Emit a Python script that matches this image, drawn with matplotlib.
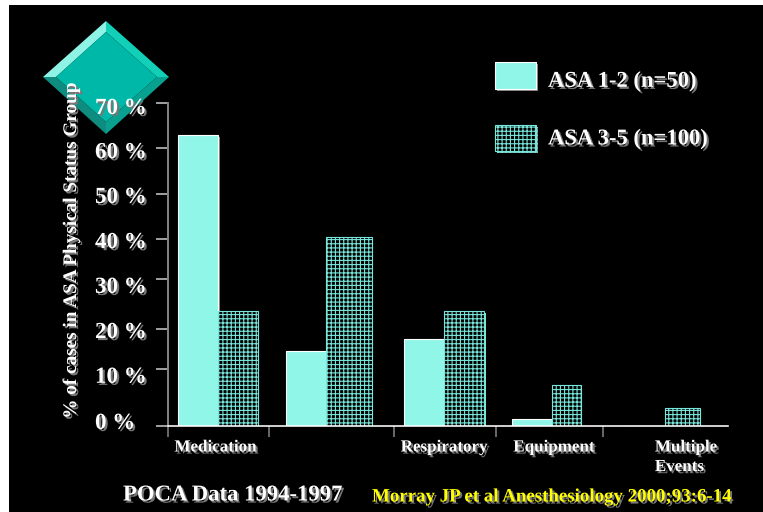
##############################################################################
#              POCA data slide: case types by ASA status group               #
##############################################################################

import matplotlib
matplotlib.use('Agg')
import matplotlib.pyplot as plt
import matplotlib.patheffects as pe
from matplotlib.patches import Polygon, Rectangle, Patch

# Data
categories = ['Medication', '', 'Respiratory', 'Equipment', 'Multiple\nEvents']
asa_1_2 = [63.0, 16.2, 18.7, 1.4, 0.0]
asa_3_5 = [24.9, 40.9, 24.9, 8.8, 3.8]
series_names = ['ASA 1-2 (n=50)', 'ASA 3-5 (n=100)']
ytick_labels = ['0 %', '10 %', '20 %', '30 %', '40 %', '50 %', '60 %', '70 %']

# Layout of the slide (pixels of the 763x512 picture)
W, H = 763, 512
ax_left, ax_right, ax_top, ax_bottom = 168, 728, 102.7, 425.5
group_edges = [168, 269, 394, 496, 603]
bar_a_left = [178, 285.5, 404.2, 512, 625]
bar_mid = [217.8, 325.5, 443.5, 551.5, 664.5]
bar_b_right = [257.5, 371.5, 484, 580.5, 699.5]
label_centres = [215.5, 331, 444, 554, 686]
legend_text_shift = [-4, 1]
# the slide's ticks and labels are not evenly spaced
ytick_marks = [0, 12.3, 20.9, 31.8, 40.5, 50.3, 60.2, 70]
ylabel_spots = [1.0, 11.0, 20.7, 30.5, 40.2, 50.0, 59.7, 69.3]

AQUA = '#8ff6e8'
GRID = '#78e6da'
GREY = '#808080'
SERIF = 'Liberation Serif'
px = 72 / 100  # points per pixel at dpi 100

plt.rcParams['hatch.linewidth'] = 0.8
shadow = [pe.withSimplePatchShadow(offset=(1.4, -1.4), shadow_rgbFace=GREY, alpha=1)]
text_shadow = [pe.withSimplePatchShadow(offset=(1.5, -1.5), shadow_rgbFace='#777777', alpha=1)]

fig = plt.figure(figsize=(W / 100, H / 100), dpi=100, facecolor='white')

# Backdrop and diamond, in picture pixels
back = fig.add_axes([0, 0, 1, 1])
back.set_xlim(0, W)
back.set_ylim(H, 0)
back.axis('off')
back.add_patch(Rectangle((9, 5), W - 9, H - 5, facecolor='black', edgecolor='none'))
facets = [([(106, 21), (43, 77), (56, 77), (106, 32)], '#8ef3e4'),
          ([(106, 21), (169, 77), (157, 77), (106, 32)], '#12d0b8'),
          ([(169, 77), (106, 134), (106, 122), (157, 77)], '#08a08f'),
          ([(43, 77), (106, 134), (106, 122), (56, 77)], '#0e8c80'),
          ([(106, 32), (157, 77), (106, 122), (56, 77)], '#00b8a8')]
for pts, col in facets:
    back.add_patch(Polygon(pts, closed=True, facecolor=col, edgecolor='none'))

# Chart
ax = fig.add_axes([ax_left / W, 1 - ax_bottom / H,
                   (ax_right - ax_left) / W, (ax_bottom - ax_top) / H])
ax.patch.set_alpha(0)
ax.set_xlim(ax_left, ax_right)
ax.set_ylim(0, 70)

widths_a = [m - l for m, l in zip(bar_mid, bar_a_left)]
widths_b = [r - m for r, m in zip(bar_b_right, bar_mid)]
ax.bar(bar_a_left, asa_1_2, widths_a, align='edge', facecolor=AQUA, edgecolor='white',
       linewidth=0.8, path_effects=shadow, zorder=2)
ax.bar(bar_mid, asa_3_5, widths_b, align='edge', facecolor='black', edgecolor=GRID,
       hatch='++++', linewidth=0.8, path_effects=shadow, zorder=3)

# Axes lines
for side in ['top', 'right']:
    ax.spines[side].set_visible(False)
ax.spines['left'].set_color(GREY)
ax.spines['left'].set_linewidth(2 * px)
ax.spines['bottom'].set_color('white')
ax.spines['bottom'].set_linewidth(1.6 * px)
ax.spines['bottom'].set_zorder(5)

ax.set_yticks(ytick_marks)
ax.set_yticklabels([])
ax.tick_params(axis='y', which='major', length=12 * px, width=1.6 * px, color='#c4c4c4')
ax.set_yticks(ylabel_spots, labels=ytick_labels, minor=True)
ax.tick_params(axis='y', which='minor', length=0, pad=73 * px, labelcolor='white')
for lab in ax.get_yticklabels(minor=True):
    lab.set(family=SERIF, weight='bold', size=23 * px, ha='left', path_effects=text_shadow)

ax.set_xticks(group_edges)
ax.set_xticklabels([])
ax.tick_params(axis='x', which='major', length=11 * px, width=1.6 * px, color=GREY)
ax.set_xticks(label_centres, labels=categories, minor=True)
ax.tick_params(axis='x', which='minor', length=0, pad=14 * px, labelcolor='white')
for lab in ax.get_xticklabels(minor=True):
    lab.set(family=SERIF, weight='bold', size=17 * px, va='top', linespacing=1.3,
            multialignment='left', path_effects=text_shadow)

ax.set_ylabel('% of cases in ASA Physical Status Group', family=SERIF, weight='bold',
              size=19.2 * px, color='white', path_effects=text_shadow)
ax.yaxis.set_label_coords((80 - ax_left) / (ax_right - ax_left), 0.54)

# Legend
handles = [Patch(facecolor=AQUA, edgecolor='white', linewidth=0.8, path_effects=shadow),
           Patch(facecolor='black', edgecolor=GRID, hatch='++++', linewidth=0.8, path_effects=shadow)]
leg_px = 22.6
leg = ax.legend(handles, series_names, loc='upper left', frameon=False, borderpad=0,
                borderaxespad=0, bbox_to_anchor=(495 / W, 1 - 62 / H),
                bbox_transform=fig.transFigure, handlelength=41 / leg_px, handleheight=1.436,
                handletextpad=12 / leg_px, labelspacing=36 / leg_px,
                prop={'family': SERIF, 'weight': 'bold', 'size': leg_px * px})
for t, dy in zip(leg.get_texts(), legend_text_shift):
    t.set(color='white', path_effects=text_shadow)
    t.set_y(dy)

# Footer
fig.text(123 / W, 1 - 495 / H, 'POCA Data 1994-1997', family=SERIF, weight='bold',
         size=22.7 * px, color='white', va='center', path_effects=text_shadow)
fig.text(372 / W, 1 - 497 / H, 'Morray JP et al Anesthesiology 2000;93:6-14', family=SERIF,
         weight='bold', size=18.9 * px, color='#ffff00', va='center', path_effects=text_shadow)

fig.savefig('out.png', dpi=100, facecolor='white')
